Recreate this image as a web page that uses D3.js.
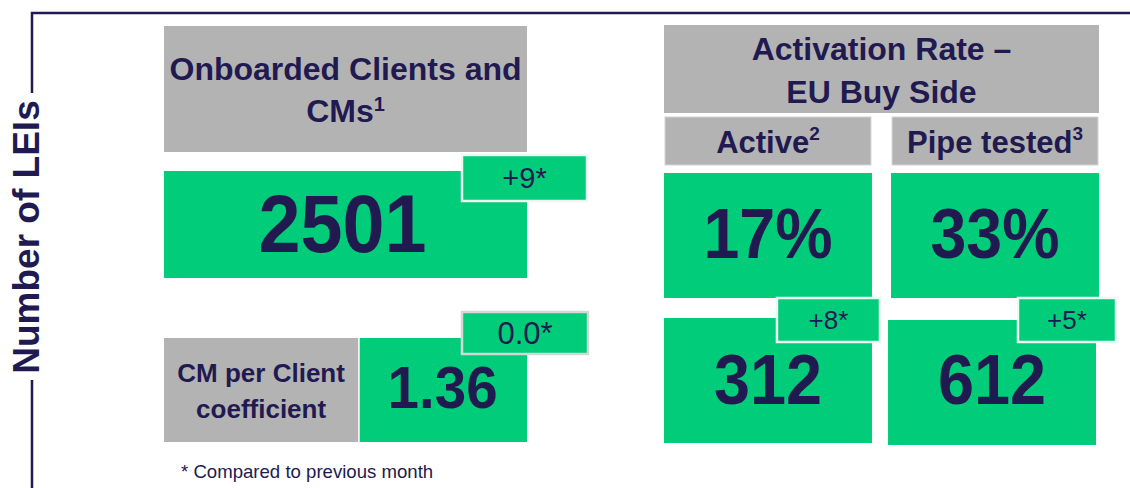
<!DOCTYPE html>
<html lang="en">
<head>
<meta charset="UTF-8">
<title>Number of LEIs</title>
<script src="https://d3js.org/d3.v7.min.js"></script>
<style>
  body { margin: 0; background: #fff; }
  text { font-family: "Liberation Sans", Arial, sans-serif; fill: #211a50; }
  .bold { font-weight: bold; }
</style>
</head>
<body>
<div id="chart"></div>
<script>

// values
var axisLabel = "Number of LEIs";
var onboardedTitle = ["Onboarded Clients and", "CMs"];
var onboardedSup = "1";
var onboarded = 2501;
var onboardedDelta = 9;
var coefLabel = ["CM per Client", "coefficient"];
var coef = 1.36;
var coefDelta = 0.0;
var activationTitle = ["Activation Rate \u2013", "EU Buy Side"];
var categories = ["Active", "Pipe tested"];
var categorySups = ["2", "3"];
var rates = [17, 33];
var counts = [312, 612];
var countDeltas = [8, 5];
var footnote = "* Compared to previous month";

var width = 1130, height = 488;
var green = "#00cc7a", grey = "#b3b3b3", navy = "#211a50";

var svg = d3.select("#chart").append("svg")
    .attr("width", width)
    .attr("height", height);

// frame with rotated label
svg.append("path")
    .attr("d", "M" + width + ",13H32V93 M32,380V" + height)
    .attr("fill", "none")
    .attr("stroke", navy)
    .attr("stroke-width", 2.5);

svg.append("text")
    .attr("class", "bold")
    .attr("transform", "translate(39,237) rotate(-90)")
    .attr("text-anchor", "middle")
    .style("font-size", "37px")
    .text(axisLabel);

// column scales
var xLeft = d3.scaleLinear().domain([0, 1]).range([164, 527]);
var xRight = d3.scaleBand().domain(categories).range([664, 1099]).paddingInner(0.084);

function box(x, y, w, h, fill) {
  return svg.append("rect")
      .attr("x", x).attr("y", y)
      .attr("width", w).attr("height", h)
      .attr("fill", fill);
}

function label(x, y, str, size, bold) {
  return svg.append("text")
      .attr("class", bold ? "bold" : null)
      .attr("x", x).attr("y", y)
      .attr("text-anchor", "middle")
      .style("font-size", size + "px")
      .text(str);
}

function bigNumber(x, y, str, size, len) {
  return label(x, y, str, size, true)
      .attr("textLength", len)
      .attr("lengthAdjust", "spacingAndGlyphs");
}

function badge(x, y, w, h, str, size, edge) {
  box(x, y, w, h, green)
      .attr("stroke", edge)
      .attr("stroke-width", 2.5);
  label(x + w / 2, y + h / 2 + size * 0.36, str, size, false);
}

function sign(v) { return (v > 0 ? "+" : "") + v; }

// left: onboarded clients
var lw = xLeft(1) - xLeft(0), lc = xLeft(0.5);
box(xLeft(0), 26, lw, 126, grey);
label(lc, 80, onboardedTitle[0], 32, true);
var t = label(lc, 121.7, onboardedTitle[1], 32, true);
t.append("tspan").attr("dy", -11).style("font-size", "20px").text(onboardedSup);

box(xLeft(0), 171, lw, 107, green);
bigNumber(lc - 3, 252, onboarded, 81, 168);
badge(462, 155, 125, 46, sign(onboardedDelta) + "*", 29, "#eef8f3");

// left: coefficient
var split = xLeft(0.535);
box(xLeft(0), 338, split - xLeft(0), 104, grey);
box(split + 1.5, 338, xLeft(1) - split - 1.5, 104, green);
label((xLeft(0) + split) / 2, 381.7, coefLabel[0], 26, true);
label((xLeft(0) + split) / 2, 417.7, coefLabel[1], 26, true);
bigNumber((split + xLeft(1)) / 2, 408, d3.format(".2f")(coef), 59, 110);
badge(462, 312, 126, 42, d3.format(".1f")(coefDelta) + "*", 31, "#d6d6d6");

svg.append("text")
    .attr("x", 181).attr("y", 478)
    .style("font-size", "18.6px")
    .text(footnote);

// right: activation rate
box(xRight.range()[0], 25, xRight.range()[1] - xRight.range()[0], 88, grey);
var rc = (xRight.range()[0] + xRight.range()[1]) / 2;
label(rc, 60, activationTitle[0], 32, true);
label(rc, 102.7, activationTitle[1], 32, true);

categories.forEach(function(c, i) {
  var x = xRight(c), bw = xRight.bandwidth(), cx = x + bw / 2;

  box(x + 1, 117, bw - 2, 48, grey)
      .attr("stroke", "#d4d4d4").attr("stroke-width", 1);
  var h = label(cx, 153, c, 31, true);
  h.append("tspan").attr("dy", -13).style("font-size", "19px").text(categorySups[i]);

  box(x, 173, bw, 125, green);
  bigNumber(cx, 258.3, rates[i] + "%", 71, 129);

  box(x + (i ? -3 : 0), 318 + (i ? 2 : 0), bw, 125, green);
  bigNumber(cx + (i ? -3 : 0), 404, counts[i], 71, 108);

  badge(x + bw - 95 + (i ? 14 : 0), 298, i ? 98 : 103, 44, sign(countDeltas[i]) + "*", 26, "#eef8f3");
});

</script>
</body>
</html>
